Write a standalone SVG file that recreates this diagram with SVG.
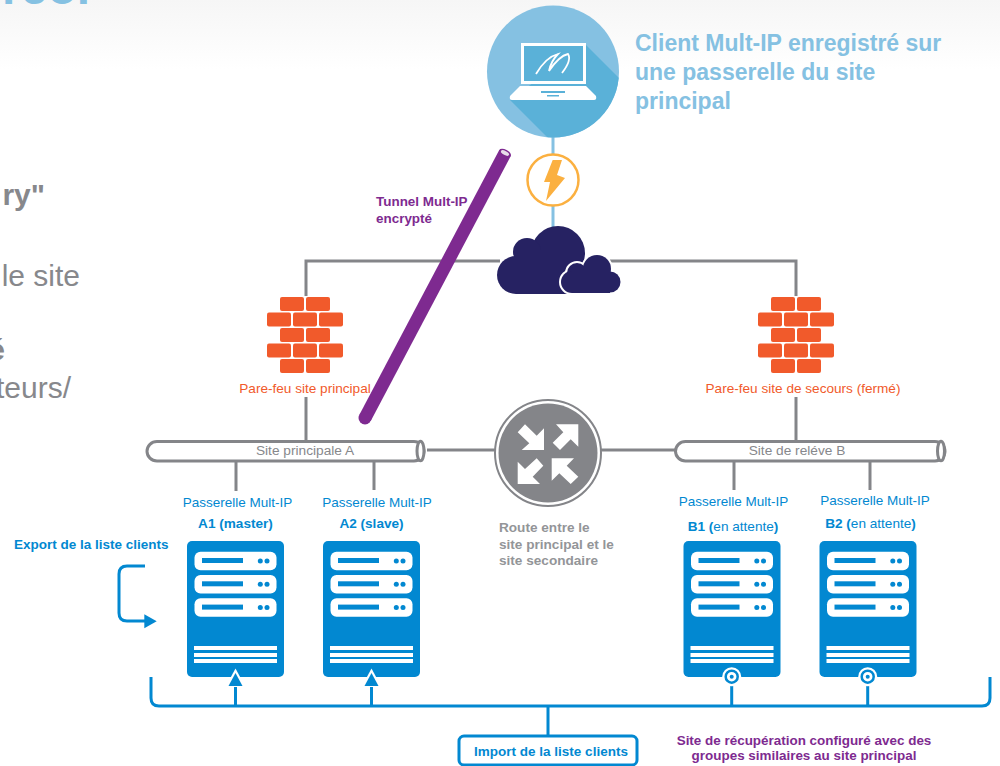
<svg xmlns="http://www.w3.org/2000/svg" xmlns:xlink="http://www.w3.org/1999/xlink" width="1000" height="766" viewBox="0 0 1000 766">
<style>
text{font-family:"Liberation Sans",Arial,sans-serif}
.b{font-weight:bold}
.side{fill:#87888c;font-size:30px}
.gw{fill:#0288d1;font-size:13.500px;text-anchor:middle}
.gwb{fill:#0288d1;font-size:13.600px;font-weight:bold;text-anchor:middle}
.n{font-weight:normal}
.head{fill:#85c1e2;font-size:23px;font-weight:bold}
.pur{fill:#7e2a90;font-size:13.450px;font-weight:bold}
.grey{fill:#87888c;font-size:13.700px;text-anchor:middle}
.org{fill:#f15a2b;font-size:13.600px;text-anchor:middle}
.route{fill:#939598;font-size:13.600px;font-weight:bold}
.lbl{fill:#0288d1;font-size:13.500px;font-weight:bold}
.w{fill:#fff}
.g{stroke:#848589;stroke-width:3;fill:none}
.bl{stroke:#0288d1;stroke-width:3;fill:none}
.br{fill:#f15a2b}
.nv{fill:#262262}
.sb{fill:#0288d1}
</style>
<defs>
<linearGradient id="hdr" x1="0" y1="0" x2="0" y2="1"><stop offset="0" stop-color="#f6f6f6"/><stop offset="1" stop-color="#fff"/></linearGradient>
<clipPath id="cc"><circle cx="553" cy="71.500" r="66"/></clipPath>
<g id="srv">
<rect x="187" y="541" width="97" height="136" rx="5" class="sb"/>
<g id="sl"><rect x="194.500" y="551.700" width="82" height="18.500" rx="6" class="w"/><rect x="202" y="558" width="41" height="5" class="sb"/><circle cx="260.300" cy="561" r="2.500" class="sb"/><circle cx="267" cy="561" r="2.500" class="sb"/></g>
<use xlink:href="#sl" href="#sl" y="23.300"/>
<use xlink:href="#sl" href="#sl" y="46.600"/>
<rect x="194" y="646" width="83" height="4" class="w"/><rect x="194" y="653" width="83" height="4" class="w"/><rect x="194" y="659" width="83" height="4" class="w"/>
</g>
<g id="wall">
<rect x="280" y="297" width="24" height="14" rx="2" class="br"/><rect x="306" y="297" width="24" height="14" rx="2" class="br"/>
<rect x="267" y="312.500" width="24" height="14" rx="2" class="br"/><rect x="293" y="312.500" width="24" height="14" rx="2" class="br"/><rect x="319" y="312.500" width="24" height="14" rx="2" class="br"/>
<rect x="280" y="328" width="24" height="14" rx="2" class="br"/><rect x="306" y="328" width="24" height="14" rx="2" class="br"/>
<rect x="267" y="343.500" width="24" height="14" rx="2" class="br"/><rect x="293" y="343.500" width="24" height="14" rx="2" class="br"/><rect x="319" y="343.500" width="24" height="14" rx="2" class="br"/>
<rect x="280" y="359" width="24" height="14" rx="2" class="br"/><rect x="306" y="359" width="24" height="14" rx="2" class="br"/>
</g>
<g id="tri">
<path d="M235.500 668.500L245 686H226Z" class="w"/>
<path d="M235.500 673L242.500 686H228.500Z" class="sb"/>
</g>
</defs>
<rect width="1000" height="70" fill="url(#hdr)"/>
<g id="side-text">
<text x="2" y="4" fill="#85c1e2" font-size="48" font-weight="bold">reor</text>
<text x="45" y="205" text-anchor="end" class="side b">ry"</text>
<text x="80" y="286" text-anchor="end" class="side">le site</text>
<text x="5" y="360" text-anchor="end" class="side b">é</text>
<text x="71" y="398" text-anchor="end" class="side">teurs/</text>
</g>
<g id="connectors">
<path d="M553 130V240" stroke="#85c1e2" stroke-width="3" fill="none"/>
<path class="g" d="M500 261H306V296M306 397V441"/>
<path class="g" d="M610 261H796V296M796 397V441"/>
<path class="g" d="M236 462V491M374 462V490M734 462V490M870 462V490"/>
<path class="g" d="M427 450H500M600 450H675"/>
<path class="bl" d="M151 677V698Q151 706 159 706H982Q990 706 990 698V677"/>
<path class="bl" d="M235.500 706V687M371.500 706V687M731.700 706V686M867.700 706V686M548 706V736"/>
<path class="bl" d="M145 566H127Q119 566 119 574V613Q119 621 127 621H146"/>
<path d="M144.300 614.300L156.700 621.300L144.300 628.300Z" class="sb"/>
</g>
<g id="client">
<circle cx="553" cy="71.500" r="66" fill="#85c1e2"/>
<path clip-path="url(#cc)" d="M585 44L625 84V140H550L510 100Z" fill="#5ab1d8"/>
<rect x="522.500" y="44.500" width="62" height="38" fill="#5ab1d8" stroke="#fff" stroke-width="3"/>
<path d="M520 86H586L596 96Q597 100 594 100H512Q509 100 510 96Z" fill="#fff"/>
<rect x="541" y="91" width="24" height="2" fill="#5ab1d8"/><rect x="547" y="95" width="12" height="1.500" fill="#5ab1d8"/>
<path d="M536 74Q546 57 558 54Q551 61 549 71Q559 56 568 54Q572 60 562 73" fill="none" stroke="#fff" stroke-width="1.800"/>
<text class="head"><tspan x="635" y="51">Client Mult-IP enregistré sur</tspan><tspan x="635" y="80">une passerelle du site</tspan><tspan x="635" y="109">principal</tspan></text>
</g>
<g id="bolt">
<circle cx="553" cy="180" r="25.500" fill="#fff" stroke="#fbb040" stroke-width="2.500"/>
<path d="M552.700 160H562L557 175L565 178L546 201L550 182H544Z" fill="#fbb040"/>
</g>
<g id="cloud">
<circle cx="558" cy="253" r="27" class="nv"/>
<circle cx="527" cy="252" r="14" class="nv"/>
<circle cx="516" cy="275" r="19" class="nv"/>
<rect x="516" y="250" width="60" height="44" class="nv"/>
<g fill="#fff" stroke="#fff" stroke-width="4">
<circle cx="577" cy="273" r="10"/><circle cx="597" cy="269" r="14"/><circle cx="610" cy="282" r="10.500"/><circle cx="572" cy="282" r="11"/><rect x="572" y="270" width="38" height="23"/>
</g>
<g class="nv">
<circle cx="577" cy="273" r="10"/><circle cx="597" cy="269" r="14"/><circle cx="610" cy="282" r="10.500"/><circle cx="572" cy="282" r="11"/><rect x="572" y="270" width="38" height="23"/>
</g>
</g>
<g id="firewall-a">
<use xlink:href="#wall" href="#wall"/>
<text x="305" y="393" class="org">Pare-feu site principal</text>
</g>
<g id="firewall-b">
<use xlink:href="#wall" href="#wall" x="491"/>
<text x="803" y="393" class="org">Pare-feu site de secours (fermé)</text>
</g>
<g id="tunnel">
<path d="M365 418L505 153" stroke="#7e2a90" stroke-width="13" fill="none"/>
<circle cx="365" cy="418" r="6.500" fill="#7e2a90"/>
<ellipse cx="505" cy="153" rx="6.500" ry="3.400" transform="rotate(27.800 505 153)" fill="#7e2a90"/>
<ellipse cx="505" cy="153" rx="4.500" ry="2" transform="rotate(27.800 505 153)" fill="#e8dcea"/>
<text class="pur"><tspan x="376" y="206">Tunnel Mult-IP</tspan><tspan x="376" y="223">encrypté</tspan></text>
</g>
<g id="bus-a">
<rect x="147" y="441.500" width="277" height="19.500" rx="10" fill="#fff" stroke="#848589" stroke-width="3"/>
<ellipse cx="420.500" cy="451" rx="3.500" ry="9.800" fill="#fff" stroke="#848589" stroke-width="3"/>
<text x="305" y="455" class="grey">Site principale A</text>
</g>
<g id="bus-b">
<rect x="675.500" y="441.500" width="269.500" height="19.500" rx="10" fill="#fff" stroke="#848589" stroke-width="3"/>
<ellipse cx="941" cy="451" rx="3.500" ry="9.800" fill="#fff" stroke="#848589" stroke-width="3"/>
<text x="797" y="455" class="grey">Site de reléve B</text>
</g>
<g id="route">
<circle cx="548" cy="453" r="53" fill="#fff" stroke="#848589" stroke-width="2"/>
<circle cx="548" cy="453" r="49.500" fill="#848589"/>
<g class="w">
<path d="M544 428.300L536.700 435.700L525 424.300L517.700 432.300L529.300 443.300L521.700 450H544Z"/>
<path d="M556 424.300H578.300V446.700L570.700 439.300L560 450L552.700 442.700L563.300 432.300Z"/>
<path d="M517.700 461.700L525 469L536.700 458.300L543.300 465.700L532.700 476.700L540 484H517.700Z"/>
<path d="M551.700 458.300H574L566.700 465.700L578.300 476.700L570.700 484L559.300 473.300L551.700 480.700Z"/>
</g>
<text class="route"><tspan x="499" y="532">Route entre le</tspan><tspan x="499" y="549">site principal et le</tspan><tspan x="499" y="565">site secondaire</tspan></text>
</g>
<g id="gw-a1">
<text x="237.500" y="507" class="gw">Passerelle Mult-IP</text>
<text x="235.500" y="528" class="gwb">A1 (master)</text>
<use xlink:href="#srv" href="#srv"/>
<use xlink:href="#tri" href="#tri"/>
</g>
<g id="gw-a2">
<text x="377" y="507" class="gw">Passerelle Mult-IP</text>
<text x="371.500" y="528" class="gwb">A2 (slave)</text>
<use xlink:href="#srv" href="#srv" x="136"/>
<use xlink:href="#tri" href="#tri" x="136"/>
</g>
<g id="gw-b1">
<text x="733.500" y="506" class="gw">Passerelle Mult-IP</text>
<text x="733" y="531" class="gwb">B1 (<tspan class="n">en attente</tspan>)</text>
<use xlink:href="#srv" href="#srv" x="496.500"/>
<circle cx="731.700" cy="676.700" r="9.500" class="w"/><circle cx="731.700" cy="676.700" r="6" fill="#fff" stroke="#0288d1" stroke-width="2.500"/><circle cx="731.700" cy="676.700" r="2" class="sb"/>
</g>
<g id="gw-b2">
<text x="875" y="505" class="gw">Passerelle Mult-IP</text>
<text x="870.500" y="528" class="gwb">B2 (<tspan class="n">en attente</tspan>)</text>
<use xlink:href="#srv" href="#srv" x="632.500"/>
<circle cx="867.700" cy="676.700" r="9.500" class="w"/><circle cx="867.700" cy="676.700" r="6" fill="#fff" stroke="#0288d1" stroke-width="2.500"/><circle cx="867.700" cy="676.700" r="2" class="sb"/>
</g>
<g id="export-label"><text x="14" y="549" class="lbl">Export de la liste clients</text></g>
<g id="import">
<rect x="459" y="736" width="178" height="29" rx="5" fill="#fff" stroke="#0288d1" stroke-width="3"/>
<text x="551" y="756" class="lbl" text-anchor="middle">Import de la liste clients</text>
</g>
<g id="recovery-label"><text class="pur" text-anchor="middle"><tspan x="804" y="745">Site de récupération configuré avec des</tspan><tspan x="804" y="760">groupes similaires au site principal</tspan></text></g>
</svg>
